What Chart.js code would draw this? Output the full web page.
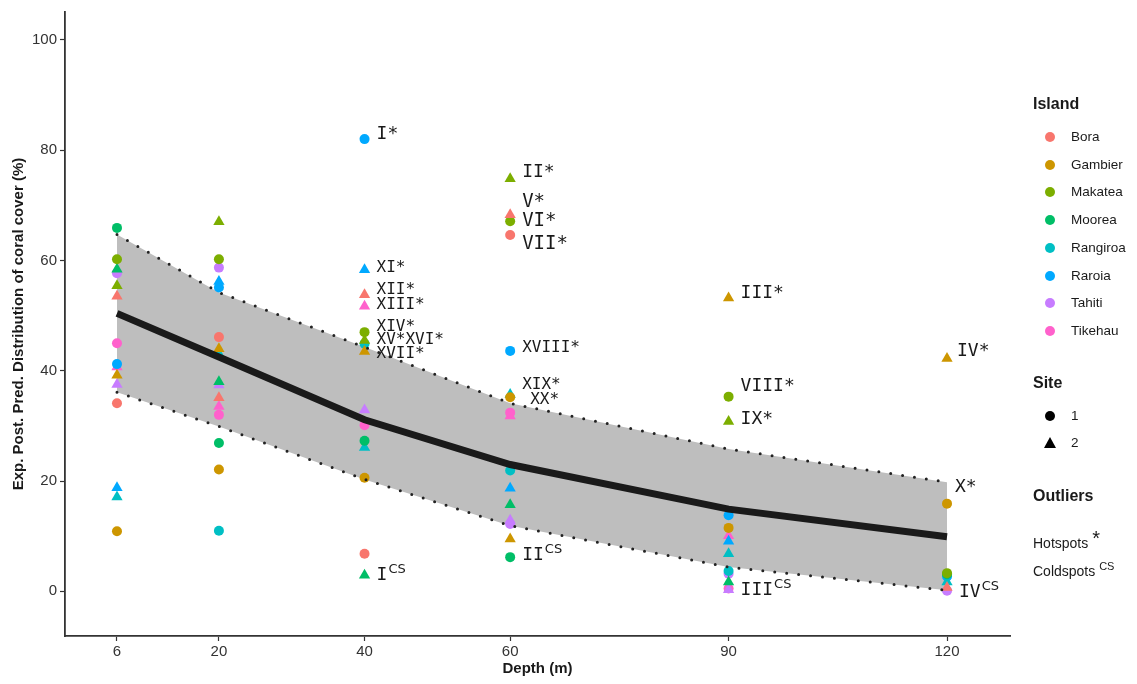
<!DOCTYPE html>
<html>
<head>
<meta charset="utf-8">
<script src="https://cdn.jsdelivr.net/npm/chart.js@4.4.0/dist/chart.umd.min.js"></script>
<style>
  body { margin: 0; background: #fff; font-family: "Liberation Sans", Arial, sans-serif; }
  #wrap { position: relative; width: 1137px; height: 684px; }
  #legend { position: absolute; left: 1033px; top: 0; width: 104px; color: #1a1a1a; }
  .lg-title { position: absolute; left: 0; font-weight: bold; font-size: 16px; white-space: nowrap; }
  .lg-item { position: absolute; left: 0; font-size: 13.5px; white-space: nowrap; height: 20px; line-height: 20px; }
  .lg-item .dot { position: absolute; left: 12px; top: 5px; width: 10px; height: 10px; border-radius: 50%; }
  .lg-item .tri { position: absolute; left: 11px; top: 4px; width: 0; height: 0;
    border-left: 6px solid transparent; border-right: 6px solid transparent; border-bottom: 11px solid #000; }
  .lg-item span.t { position: absolute; left: 38px; }
</style>
</head>
<body>
<div id="wrap">
  <canvas id="chart"></canvas>
  <div id="legend"></div>
</div>
<script>
// profondeurs (m)
const depths = [6, 20, 40, 60, 90, 120];
const yTicks = [0, 20, 40, 60, 80, 100];

// iles et couleurs (palette ggplot)
const islands = ['Bora', 'Gambier', 'Makatea', 'Moorea', 'Rangiroa', 'Raroia', 'Tahiti', 'Tikehau'];
const islandColors = ['#F8766D', '#CD9600', '#7CAE00', '#00BE67', '#00BFC4', '#00A9FF', '#C77CFF', '#FF61CC'];

// couverture corallienne par ile, site 1 (rond) et site 2 (triangle), aligne sur depths
const site1 = {
  Bora:     [34.1, 46.1, 6.8, 64.6, null, null],
  Gambier:  [10.9, 22.1, 20.6, 35.2, 11.5, 15.9],
  Makatea:  [60.2, 60.2, 47.0, 67.1, 35.3, 3.3],
  Moorea:   [65.9, 26.9, 27.3, 6.2, null, 3.1],
  Rangiroa: [null, 11.0, 44.9, 21.9, 3.7, null],
  Raroia:   [41.2, 55.1, 82.0, 43.6, 13.8, 2.7],
  Tahiti:   [57.7, 58.7, null, 12.2, 3.2, 0.1],
  Tikehau:  [45.0, 32.0, 30.1, 32.4, 0.5, null]
};
const site2 = {
  Bora:     [53.5, 35.1, 53.8, 68.3, null, 0.7],
  Gambier:  [39.2, 44.0, 43.5, 9.5, 53.2, 42.2],
  Makatea:  [55.4, 67.0, 45.5, 74.8, 30.8, null],
  Moorea:   [58.4, 38.0, 2.9, 15.7, 1.7, null],
  Rangiroa: [17.1, 43.1, 26.1, 35.7, 6.8, 1.7],
  Raroia:   [18.8, 56.2, 58.3, 18.7, 9.1, null],
  Tahiti:   [37.5, 37.4, 32.9, 12.9, 0.3, null],
  Tikehau:  [40.7, 33.5, 51.7, 31.8, 10.1, null]
};

// prediction moyenne et intervalle
const predMean  = [50.4, 42.5, 31.1, 23.0, 14.9, 9.9];
const predUpper = [64.7, 54.2, 44.3, 34.1, 25.8, 19.8];
const predLower = [36.1, 29.9, 20.3, 11.9, 4.4, 0.2];

// etiquettes des outliers
const outText  = ['I*', 'XI*', 'XII*', 'XIII*', 'XIV*', 'XV*XVI*', 'XVII*', 'I',
                  'II*', 'V*', 'VI*', 'VII*', 'XVIII*', 'XIX*', 'XX*', 'II',
                  'III*', 'VIII*', 'IX*', 'III',
                  'IV*', 'X*', 'IV'];
const outSup   = ['', '', '', '', '', '', '', 'CS',
                  '', '', '', '', '', '', '', 'CS',
                  '', '', '', 'CS',
                  '', '', 'CS'];
const outDepth = [40, 40, 40, 40, 40, 40, 40, 40,
                  60, 60, 60, 60, 60, 60, 60, 60,
                  90, 90, 90, 90,
                  120, 120, 120];
const outY     = [82.9, 58.6, 54.6, 51.9, 47.9, 45.6, 43.1, 2.9,
                  75.9, 70.5, 67.2, 62.9, 44.1, 37.5, 34.8, 6.5,
                  54.1, 37.1, 31.2, 0.2,
                  43.6, 18.9, -0.2];
// taille de police des etiquettes (style)
const outSize  = [18, 16, 16, 16, 16, 16, 16, 18,
                  18, 19, 19, 19, 16, 16, 16, 18,
                  18, 18, 18, 18,
                  18, 18, 18];
const outDx    = [12, 12, 12, 12, 12, 12, 12, 12,
                  12, 12, 12, 12, 12, 12, 20, 12,
                  12, 12, 12, 12,
                  10, 8, 12];

const datasets = [];

// ligne moyenne (au-dessus)
datasets.push({
  type: 'line', label: 'mean',
  data: depths.map((d, i) => ({ x: d, y: predMean[i] })),
  borderColor: '#1a1a1a', borderWidth: 7, pointRadius: 0, fill: false, tension: 0, order: 0
});
// bords pointilles
[predUpper, predLower].forEach(arr => {
  datasets.push({
    type: 'line', label: 'edge',
    data: depths.map((d, i) => ({ x: d, y: arr[i] })),
    borderColor: '#222', borderWidth: 3, borderDash: [0, 12], borderCapStyle: 'round',
    pointRadius: 0, fill: false, tension: 0, order: 1
  });
});

// points
islands.forEach((isl, k) => {
  [site1, site2].forEach((src, s) => {
    const pts = [];
    depths.forEach((d, i) => { if (src[isl][i] !== null) pts.push({ x: d, y: src[isl][i] }); });
    datasets.push({
      type: 'scatter', label: isl + ' ' + (s + 1), data: pts,
      backgroundColor: islandColors[k], borderColor: islandColors[k], borderWidth: 0,
      pointStyle: s === 0 ? 'circle' : 'triangle', pointRadius: s === 0 ? 5 : 6.5,
      order: 2
    });
  });
});

// bande grise (dessous)
datasets.push({
  type: 'line', label: 'bandU',
  data: depths.map((d, i) => ({ x: d, y: predUpper[i] })),
  borderWidth: 0, borderColor: 'rgba(0,0,0,0)', backgroundColor: '#BEBEBE',
  pointRadius: 0, fill: '+1', tension: 0, order: 10
});
datasets.push({
  type: 'line', label: 'bandL',
  data: depths.map((d, i) => ({ x: d, y: predLower[i] })),
  borderWidth: 0, borderColor: 'rgba(0,0,0,0)', pointRadius: 0, fill: false, tension: 0, order: 10
});

// etiquettes des outliers
const outlierLabels = {
  id: 'outlierLabels',
  afterDatasetsDraw(chart) {
    const c = chart.ctx, xs = chart.scales.x, ys = chart.scales.y;
    c.save();
    c.fillStyle = '#1a1a1a';
    c.textBaseline = 'middle';
    c.textAlign = 'left';
    outText.forEach((t, i) => {
      const x = xs.getPixelForValue(outDepth[i]) + outDx[i];
      const y = ys.getPixelForValue(outY[i]);
      c.font = outSize[i] + 'px "DejaVu Sans Mono"';
      c.fillText(t, x, y);
      if (outSup[i]) {
        const w = c.measureText(t).width;
        c.font = '13px "DejaVu Sans"';
        c.fillText(outSup[i], x + w + 1, y - 6);
      }
    });
    c.restore();
  }
};

new Chart(document.getElementById('chart'), {
  data: { datasets },
  options: {
    responsive: true,
    maintainAspectRatio: false,
    animation: false,
    layout: { padding: { top: 8, right: 127, left: 0, bottom: 0 } },
    plugins: { legend: { display: false }, tooltip: { enabled: false } },
    scales: {
      x: {
        type: 'linear', min: -1.14, max: 128.65,
        afterBuildTicks: s => { s.ticks = depths.map(v => ({ value: v })); },
        afterFit: s => { s.height = 48; },
        grid: { drawOnChartArea: false, tickLength: 5, color: '#333', tickWidth: 1.2 },
        border: { display: true, color: '#333', width: 1.8 },
        ticks: { color: '#333', font: { family: 'Liberation Sans', size: 15 }, padding: 2, maxRotation: 0 },
        title: { display: true, text: 'Depth (m)', color: '#1a1a1a',
                 font: { family: 'Liberation Sans', size: 15, weight: 'bold' }, padding: { top: 0, bottom: 6 } }
      },
      y: {
        type: 'linear', min: -8.1, max: 105.05,
        afterBuildTicks: s => { s.ticks = yTicks.map(v => ({ value: v })); },
        afterFit: s => { s.width = 65; },
        grid: { drawOnChartArea: false, tickLength: 5, color: '#333', tickWidth: 1.2 },
        border: { display: true, color: '#333', width: 1.8 },
        ticks: { color: '#333', font: { family: 'Liberation Sans', size: 15 }, padding: 3 },
        title: { display: true, text: 'Exp. Post. Pred. Distribution of coral cover (%)', color: '#1a1a1a',
                 font: { family: 'Liberation Sans', size: 15, weight: 'bold' }, padding: { top: 10, bottom: 0 } }
      }
    }
  },
  plugins: [outlierLabels]
});

// legende a droite
const legend = document.getElementById('legend');
function addTitle(text, top) {
  const d = document.createElement('div');
  d.className = 'lg-title'; d.style.top = top + 'px'; d.textContent = text;
  legend.appendChild(d);
}
function addItem(top, markerHtml, text) {
  const d = document.createElement('div');
  d.className = 'lg-item'; d.style.top = top + 'px';
  d.innerHTML = markerHtml + '<span class="t"></span>';
  d.querySelector('.t').textContent = text;
  legend.appendChild(d);
}
addTitle('Island', 95);
islands.forEach((isl, k) => {
  addItem(127 + k * 27.7, '<div class="dot" style="background:' + islandColors[k] + '"></div>', isl);
});
addTitle('Site', 374);
addItem(406, '<div class="dot" style="background:#000"></div>', '1');
addItem(433, '<div class="tri"></div>', '2');
addTitle('Outliers', 487);
const hot = document.createElement('div');
hot.className = 'lg-item'; hot.style.top = '531px'; hot.style.fontSize = '14px';
hot.innerHTML = 'Hotspots <span style="font-size:20px;position:relative;top:-3px">*</span>';
legend.appendChild(hot);
const cold = document.createElement('div');
cold.className = 'lg-item'; cold.style.top = '556px'; cold.style.fontSize = '14px';
cold.innerHTML = 'Coldspots <sup style="font-size:11px">CS</sup>';
legend.appendChild(cold);
</script>
</body>
</html>
